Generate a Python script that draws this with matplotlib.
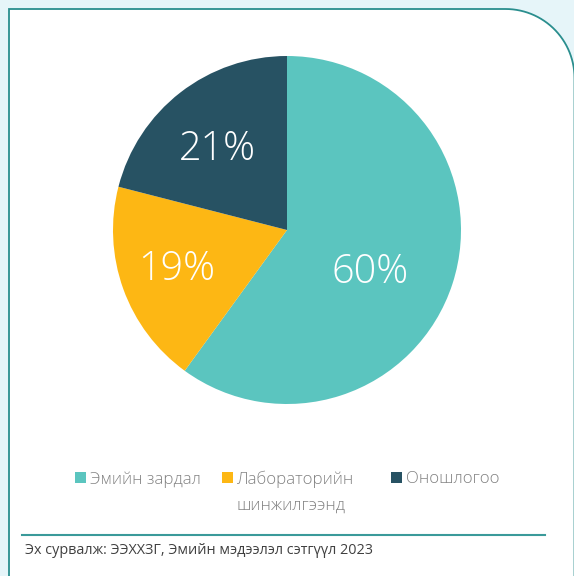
import matplotlib
matplotlib.use("Agg")
import matplotlib.pyplot as plt
from matplotlib.path import Path
from matplotlib.patches import PathPatch, Rectangle
import numpy as np

categories = ["Эмийн зардал", "Лабораторийн\nшинжилгээнд", "Оношлогоо"]
values = [60, 19, 21]
colors = ["#5BC5BF", "#FDB714", "#275263"]
source = "Эх сурвалж: ЭЭХХЗГ, Эмийн мэдээлэл сэтгүүл 2023"

W, H = 574, 576
fig = plt.figure(figsize=(W / 100, H / 100), dpi=100)
fig.patch.set_facecolor("#E6F5F9")

# background axes in pixel coordinates
bg = fig.add_axes([0, 0, 1, 1])
bg.set_xlim(0, W)
bg.set_ylim(H, 0)
bg.axis("off")

r = 69
x0, y0 = 9, 9
xr = 574.5
verts = [(x0, H + 20), (x0, y0), (xr - r, y0)]
codes = [Path.MOVETO, Path.LINETO, Path.LINETO]
ang = np.linspace(-np.pi / 2, 0, 30)
for a in ang:
    verts.append((xr - r + r * np.cos(a), y0 + r + r * np.sin(a)))
    codes.append(Path.LINETO)
verts.append((xr, H + 20))
codes.append(Path.LINETO)
card = PathPatch(Path(verts, codes), facecolor="white", edgecolor="#2A8E8E", lw=1.3)
bg.add_patch(card)

# separator line
bg.plot([22, 545], [535, 535], color="#3A9A9A", lw=1.5)

# source text
bg.text(25, 550, source, fontsize=10.4, color="#404040", va="center", ha="left",
        family=["Open Sans", "DejaVu Sans"])

# legend, drawn manually
leg_x = [75, 222, 391]
leg_y = 477
for cat, col, lx in zip(categories, colors, leg_x):
    bg.add_patch(Rectangle((lx, leg_y - 5.5), 11, 11, facecolor=col, edgecolor="none"))
    bg.text(lx + 15, leg_y - 6, cat, fontsize=12.2, color="#828282", va="top", ha="left",
            linespacing=1.78, family=["Open Sans", "DejaVu Sans"], fontweight="light")

# pie
cx, cy, R = 287, 230, 174
ax = fig.add_axes([(cx - R) / W, (H - cy - R) / H, 2 * R / W, 2 * R / H])
wedges, texts, autotexts = ax.pie(values, colors=colors, startangle=90, counterclock=False,
                                  autopct="%d%%", pctdistance=0.6,
                                  wedgeprops=dict(linewidth=0),
                                  textprops=dict(color="white", fontsize=28.5,
                                                 family=["Open Sans", "DejaVu Sans"],
                                                 fontweight="light"))
label_pos = [(0.477, -0.213), (-0.632, -0.201), (-0.402, 0.489)]
for t, p in zip(autotexts, label_pos):
    t.set_position(p)
    t.set_va("center_baseline")
ax.set_xlim(-1, 1)
ax.set_ylim(-1, 1)
ax.set_aspect("equal")
ax.axis("off")

fig.savefig("out.png", dpi=100, facecolor=fig.get_facecolor())
